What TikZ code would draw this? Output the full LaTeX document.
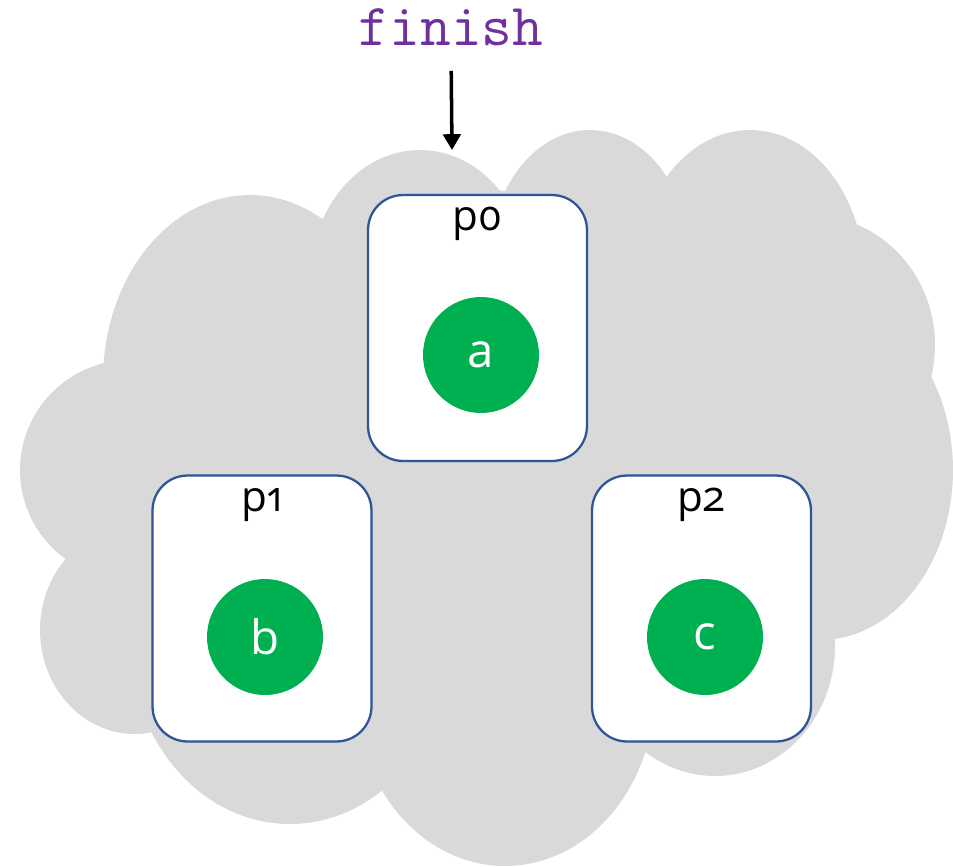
\documentclass[tikz,border=0pt]{standalone}
\usepackage{fontspec}
\setmainfont{Open Sans}[Numbers=OldStyle]
\usetikzlibrary{arrows.meta}
\definecolor{cloudgray}{HTML}{D9D9D9}
\definecolor{taskgreen}{HTML}{00B050}
\definecolor{placeblue}{HTML}{2F5597}
\definecolor{finishpurple}{HTML}{7030A0}

\begin{document}
\begin{tikzpicture}[x=0.02cm, y=-0.02cm,
    cloud/.style={fill=cloudgray},
    place/.style={draw=placeblue, line width=1.3pt, fill=white, rounded corners=0.7cm,
        minimum width=4.38cm, minimum height=5.32cm},
    placename/.style={anchor=base, font=\fontsize{24}{28}\selectfont},
    task/.style={circle, fill=taskgreen, minimum size=2.32cm, inner sep=0pt,
        text=white, font=\fontsize{27}{32}\selectfont}]
    \useasboundingbox (0,0) rectangle (953,866);

    % cloud = a pile of overlapping ellipses
    \fill[cloud] (480,480) ellipse [x radius=6.6cm, y radius=5.8cm];
    \fill[cloud] (420,280) ellipse [x radius=2.2cm, y radius=2.6cm];
    \fill[cloud] (590,260) ellipse [x radius=2.0cm, y radius=2.6cm];
    \fill[cloud] (750,280) ellipse [x radius=2.3cm, y radius=3.0cm];
    \fill[cloud] (810,345) ellipse [x radius=2.5cm, y radius=2.6cm];
    \fill[cloud] (820,470) ellipse [x radius=2.66cm, y radius=3.4cm];
    \fill[cloud] (715,646) ellipse [x radius=2.4cm, y radius=2.6cm];
    \fill[cloud] (505,690) ellipse [x radius=3.0cm, y radius=3.52cm];
    \fill[cloud] (290,640) ellipse [x radius=3.2cm, y radius=3.68cm];
    \fill[cloud] (135,630) ellipse [x radius=1.9cm, y radius=2.08cm];
    \fill[cloud] (130,470) ellipse [x radius=2.2cm, y radius=2.2cm];
    \fill[cloud] (250,380) ellipse [x radius=2.94cm, y radius=3.7cm];

    % places
    \node[place] (p0) at (477.5,328) {};
    \node[place] (p1) at (262,608.5) {};
    \node[place] (p2) at (701.5,608.5) {};
    \foreach \p in {0,1,2}
        \node[placename] (name\p) at ([yshift=-0.74cm]p\p.north) {p\p};

    % tasks
    \node[task] (a) at (481,355) {a};
    \node[task] (b) at (265,637) {b};
    \node[task] (c) at (705,637) {c};

    % finish
    \node[text=finishpurple, inner sep=2pt, font=\ttfamily\fontsize{34}{38}\selectfont]
        (finish) at (451,27) {finish};
    \coordinate (landing) at (452,150);
    \draw[-{Triangle[length=9pt, width=10pt]}, line width=2pt, shorten <=0.43cm]
        (finish.south) -- (landing);
\end{tikzpicture}
\end{document}
